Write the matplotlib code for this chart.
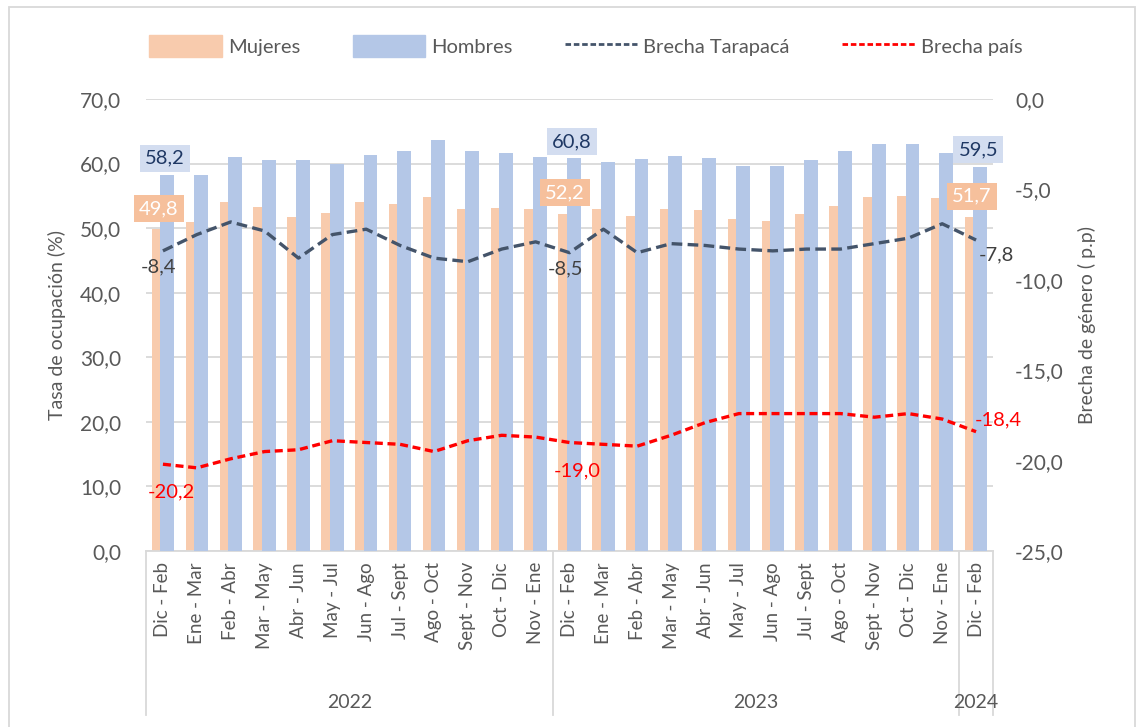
import numpy as np
import matplotlib.pyplot as plt
from matplotlib.patches import Patch, Rectangle
from matplotlib.lines import Line2D
import matplotlib.transforms as mtransforms

plt.rcParams['font.family'] = ['Lato', 'DejaVu Sans']

# Datos
periodos = ['Dic - Feb', 'Ene - Mar', 'Feb - Abr', 'Mar - May', 'Abr - Jun', 'May - Jul',
            'Jun - Ago', 'Jul - Sept', 'Ago - Oct', 'Sept - Nov', 'Oct - Dic', 'Nov - Ene',
            'Dic - Feb', 'Ene - Mar', 'Feb - Abr', 'Mar - May', 'Abr - Jun', 'May - Jul',
            'Jun - Ago', 'Jul - Sept', 'Ago - Oct', 'Sept - Nov', 'Oct - Dic', 'Nov - Ene',
            'Dic - Feb']
anios = ['2022', '2023', '2024']
anio_n = [12, 12, 1]

mujeres = [49.8, 51.0, 54.1, 53.3, 51.7, 52.4, 54.1, 53.7, 54.8, 52.9, 53.1, 52.9,
           52.2, 53.0, 51.9, 53.0, 52.8, 51.4, 51.1, 52.2, 53.4, 54.8, 55.0, 54.6, 51.7]
hombres = [58.2, 58.3, 61.0, 60.6, 60.6, 60.0, 61.4, 62.0, 63.7, 62.0, 61.6, 61.0,
           60.8, 60.3, 60.7, 61.1, 60.9, 59.7, 59.7, 60.5, 61.9, 63.0, 63.0, 61.7, 59.5]
brecha_tpca = [-8.4, -7.5, -6.8, -7.3, -8.8, -7.5, -7.2, -8.1, -8.8, -9.0, -8.3, -7.9,
               -8.5, -7.2, -8.5, -8.0, -8.1, -8.3, -8.4, -8.3, -8.3, -8.0, -7.7, -6.9, -7.8]
brecha_pais = [-20.2, -20.4, -19.9, -19.5, -19.4, -18.9, -19.0, -19.1, -19.5, -18.9, -18.6, -18.7,
               -19.0, -19.1, -19.2, -18.6, -17.9, -17.4, -17.4, -17.4, -17.4, -17.6, -17.4, -17.7, -18.4]

c_muj = '#F8CBAD'
c_hom = '#B4C7E7'
c_tpca = '#44546A'
c_pais = '#FF0000'
c_txt = '#595959'
c_grid = '#D9D9D9'

def coma(v):
    return f'{v:.1f}'.replace('.', ',')

fig = plt.figure(figsize=(11.42, 7.27), dpi=100)
ax = fig.add_axes([146/1142, 1 - 551/727, 847/1142, 452/727])
ax2 = ax.twinx()

x = np.arange(len(periodos))
w = 0.41
ax.bar(x - 0.125, mujeres, w, color=c_muj, zorder=2)
ax.bar(x + 0.125, hombres, w, color=c_hom, zorder=3)

ax.set_ylim(0, 70)
ax.set_yticks(np.arange(0, 71, 10))
ax.set_yticklabels([coma(v) for v in np.arange(0, 71, 10)])
ax.set_xlim(-0.5, len(periodos) - 0.5)
ax.yaxis.grid(True, color=c_grid, lw=1.3, zorder=0)
ax.set_axisbelow(True)
for s in ['top', 'left', 'right']:
    ax.spines[s].set_visible(False)
    ax2.spines[s].set_visible(False)
ax.spines['bottom'].set_color(c_grid)
ax.spines['bottom'].set_linewidth(1.3)
ax2.spines['bottom'].set_visible(False)

ax.set_xticks(x)
ax.set_xticklabels(periodos, rotation=90, fontsize=13.5, color=c_txt)
ax.tick_params(axis='x', length=0, pad=8)
ax.tick_params(axis='y', length=0, labelsize=15, colors=c_txt, pad=18)
ax.set_ylabel('Tasa de ocupación (%)', fontsize=14, color=c_txt, labelpad=10)

ax2.plot(x, brecha_tpca, color=c_tpca, lw=2.4, ls=(0, (3.2, 1.6)), zorder=5)
ax2.plot(x, brecha_pais, color=c_pais, lw=2.4, ls=(0, (2.4, 1.4)), zorder=5)
ax2.set_ylim(-25, 0)
ax2.set_yticks(np.arange(-25, 1, 5))
ax2.set_yticklabels([coma(v) for v in np.arange(-25, 1, 5)])
ax2.tick_params(axis='y', length=0, labelsize=15, colors=c_txt, pad=16)
ax2.set_ylabel('Brecha de género ( p.p)', fontsize=14, color=c_txt, labelpad=10)

# separadores y etiquetas de año
trans = mtransforms.blended_transform_factory(ax.transData, ax.transAxes)
bordes = np.concatenate([[0], np.cumsum(anio_n)]) - 0.5
for b in bordes:
    ax.plot([b, b], [0, -0.363], transform=trans, color=c_grid, lw=1.3, clip_on=False)
for i, a in enumerate(anios):
    cx = (bordes[i] + bordes[i + 1]) / 2
    ax.text(cx, -0.336, a, transform=trans, ha='center', va='center', fontsize=14, color=c_txt)

# etiquetas de datos
idx = [0, 12, 24]
for i in idx:
    ax.annotate(coma(hombres[i]), (x[i] + 0.125, hombres[i]), xytext=(-2, 17), textcoords='offset pixels',
                ha='center', va='center', fontsize=14.5, color='#1F3864', zorder=10,
                bbox=dict(boxstyle='square,pad=0.25', fc='#D3DDF0', ec='none'))
    ax.annotate(coma(mujeres[i]), (x[i] - 0.125, mujeres[i]), xytext=(0, 21), textcoords='offset pixels',
                ha='center', va='center', fontsize=14.5, color='white', zorder=10,
                bbox=dict(boxstyle='square,pad=0.25', fc='#F6C09C', ec='none'))
for i in [0, 12]:
    ax2.annotate(coma(brecha_tpca[i]), (x[i], brecha_tpca[i]), xytext=(-4, -16), textcoords='offset pixels',
                 ha='center', va='center', fontsize=14.5, color='#404040', zorder=10)
    ax2.annotate(coma(brecha_pais[i]), (x[i], brecha_pais[i]), xytext=(8, -28), textcoords='offset pixels',
                 ha='center', va='center', fontsize=14.5, color=c_pais, zorder=10)
ax2.annotate(coma(brecha_tpca[24]), (x[24], brecha_tpca[24]), xytext=(20, -15), textcoords='offset pixels',
             ha='center', va='center', fontsize=14.5, color='#404040', zorder=10)
ax2.annotate(coma(brecha_pais[24]), (x[24], brecha_pais[24]), xytext=(22, 12), textcoords='offset pixels',
             ha='center', va='center', fontsize=14.5, color=c_pais, zorder=10)

# leyenda
handles = [Patch(color=c_muj), Patch(color=c_hom),
           Line2D([], [], color=c_tpca, lw=2, ls=(0, (2, 1))),
           Line2D([], [], color=c_pais, lw=2, ls=(0, (2, 1)))]
fig.legend(handles, ['Mujeres', 'Hombres', 'Brecha Tarapacá', 'Brecha país'], loc='center',
           bbox_to_anchor=(0.513, 0.937), ncol=4, frameon=False, fontsize=14.5,
           handlelength=3.6, handleheight=1.3, columnspacing=2.6, handletextpad=0.3,
           labelcolor=c_txt)

fig.add_artist(Rectangle((9/1142, -0.01), 1126/1142, 1 - 7/727 + 0.01, transform=fig.transFigure,
                         fill=False, ec=c_grid, lw=1.3))

fig.savefig('out.png', dpi=100)
